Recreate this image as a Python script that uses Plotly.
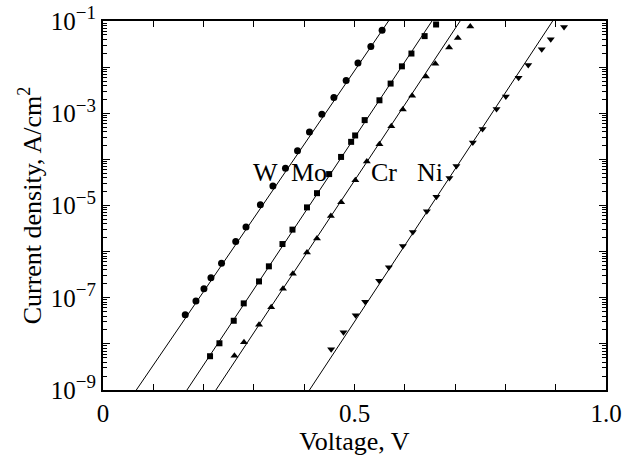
import plotly.graph_objects as go

# ---- data ----
w_v = [0.1635, 0.1848, 0.2007, 0.2146, 0.2356, 0.2639, 0.2843, 0.3129, 0.3378, 0.3628,
       0.3867, 0.4105, 0.4351, 0.4590, 0.4834, 0.5069, 0.5325, 0.5549]
w_j = [4.27e-8, 8.5e-8, 1.56e-7, 2.7e-7, 5.6e-7, 1.65e-6, 3.4e-6, 1.04e-5, 2.65e-5, 6.4e-5,
       1.53e-4, 3.94e-4, 9.5e-4, 2.2e-3, 5.1e-3, 1.23e-2, 2.8e-2, 6.3e-2]

mo_v = [0.2128, 0.2315, 0.2599, 0.2798, 0.3102, 0.3298, 0.3568, 0.3767, 0.4055, 0.4254,
        0.4496, 0.4733, 0.4933, 0.5013, 0.5202, 0.5496, 0.5718, 0.5943, 0.6132, 0.6394, 0.6622]
mo_j = [5.4e-9, 1.03e-8, 3.17e-8, 7.55e-8, 2.26e-7, 4.8e-7, 1.46e-6, 3.0e-6, 9.1e-6, 1.85e-5,
        4.8e-5, 1.13e-4, 2.4e-4, 3.3e-4, 7.1e-4, 1.91e-3, 4.4e-3, 1.04e-2, 1.97e-2, 4.7e-2, 8.4e-2]

cr_v = [0.2613, 0.2803, 0.3102, 0.3344, 0.3578, 0.3775, 0.4055, 0.4254, 0.4530, 0.4735,
        0.5017, 0.5245, 0.5496, 0.5732, 0.5961, 0.6146, 0.6420, 0.6607, 0.6881, 0.7054, 0.7302]
cr_j = [5.5e-9, 1.08e-8, 2.6e-8, 6.2e-8, 1.56e-7, 3.3e-7, 9.6e-7, 1.93e-6, 5.9e-6, 1.18e-5,
        3.54e-5, 9.0e-5, 2.13e-4, 5.2e-4, 1.2e-3, 2.4e-3, 6.3e-3, 1.18e-2, 2.67e-2, 4.3e-2, 7.6e-2]

ni_v = [0.4536, 0.4781, 0.5023, 0.5212, 0.5490, 0.5683, 0.5961, 0.6159, 0.6438, 0.6628,
        0.6887, 0.7026, 0.7352, 0.7546, 0.7824, 0.8009, 0.8262, 0.8454, 0.8722, 0.8901, 0.9166]
ni_j = [7.6e-9, 1.78e-8, 4.15e-8, 8.2e-8, 2.33e-7, 4.6e-7, 1.32e-6, 2.68e-6, 7.5e-6, 1.54e-5,
        3.97e-5, 7.2e-5, 2.33e-4, 4.55e-4, 1.23e-3, 2.3e-3, 5.9e-3, 1.11e-2, 2.44e-2, 4.0e-2, 7.4e-2]

# fitted lines: voltage where each line meets 1e-9 and 1e-1
fit_j = [1e-9, 1e-1]
w_fit_v = [0.0662, 0.5676]
mo_fit_v = [0.1669, 0.6540]
cr_fit_v = [0.2245, 0.7100]
ni_fit_v = [0.4105, 0.8940]

labels = ["W", "Mo", "Cr", "Ni"]
label_v = [0.3235, 0.4090, 0.5580, 0.6500]
label_logj = [-4.29, -4.29, -4.29, -4.29]

x_tickvals = [0, 0.1, 0.2, 0.3, 0.4, 0.5, 0.6, 0.7, 0.8, 0.9, 1.0]
x_ticktext = ["0", " ", " ", " ", " ", "0.5", " ", " ", " ", " ", "1.0"]
y_tickvals = [1e-9, 1e-8, 1e-7, 1e-6, 1e-5, 1e-4, 1e-3, 1e-2, 1e-1]
y_exps = ["−9", "", "−7", "", "−5", "", "−3", "", "−1"]
y_ticktext = [("10<sup><span style='font-size:19px'>%s</span></sup>" % e) if e else " "
              for e in y_exps]

FONT = "Liberation Serif"
minor_vals = [k * 10.0 ** d for d in range(-9, -1) for k in range(2, 10)]

fig = go.Figure()
series = [
    (w_v, w_j, w_fit_v, "circle", 7),
    (mo_v, mo_j, mo_fit_v, "square", 6),
    (cr_v, cr_j, cr_fit_v, "triangle-up", 7),
    (ni_v, ni_j, ni_fit_v, "triangle-down", 7),
]
for v, j, fv, sym, sz in series:
    fig.add_trace(go.Scatter(x=fv, y=fit_j, mode="lines",
                             line=dict(color="black", width=1), showlegend=False))
    fig.add_trace(go.Scatter(x=v, y=j, mode="markers",
                             marker=dict(symbol=sym, size=sz, color="black"),
                             showlegend=False))

for t, xv, yv in zip(labels, label_v, label_logj):
    fig.add_annotation(x=xv, y=yv, xref="x", yref="y", text=t, showarrow=False,
                       font=dict(family=FONT, size=26, color="black"),
                       xanchor="center", yanchor="middle")

axis_common = dict(showgrid=False, zeroline=False, showline=True, linecolor="black",
                   linewidth=2, ticks="inside", tickcolor="black", tickwidth=1,
                   automargin=False)

fig.update_layout(
    width=623, height=456,
    margin=dict(l=103, r=17, t=21, b=66),
    plot_bgcolor="white", paper_bgcolor="white",
    font=dict(family=FONT, size=25, color="black"),
    xaxis=dict(range=[0, 1], tickmode="array", tickvals=x_tickvals, ticktext=x_ticktext,
               ticklen=6, title=dict(text="Voltage, V", standoff=0, font=dict(size=26)),
               **axis_common),
    yaxis=dict(type="log", range=[-9, -1], tickmode="array", tickvals=y_tickvals,
               ticktext=y_ticktext, ticklen=7,
               minor=dict(ticks="inside", tickvals=minor_vals, ticklen=4,
                          tickcolor="black", showgrid=False),
               title=dict(text="Current density, A/cm<sup>2</sup>", standoff=2,
                          font=dict(size=26)),
               **axis_common),
    xaxis2=dict(range=[0, 1], overlaying="x", side="top", tickmode="array",
                tickvals=x_tickvals, showticklabels=False, ticklen=6, **axis_common),
    yaxis2=dict(type="log", range=[-9, -1], overlaying="y", side="right", tickmode="array",
                tickvals=y_tickvals, showticklabels=False, ticklen=7,
                minor=dict(ticks="inside", tickvals=minor_vals, ticklen=4,
                           tickcolor="black", showgrid=False),
                **axis_common),
)
# invisible trace to activate the mirrored axes
fig.add_trace(go.Scatter(x=[0.5], y=[1e-5], xaxis="x2", yaxis="y2", mode="markers",
                         marker=dict(opacity=0), showlegend=False, hoverinfo="skip"))

fig.write_html("out.html", config={"displayModeBar": False},
               post_script="document.body.style.margin='0';document.body.style.overflow='hidden';")
